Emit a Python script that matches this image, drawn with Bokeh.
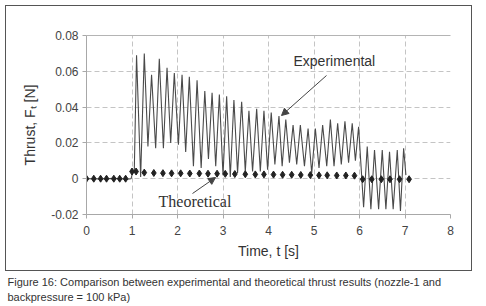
from bokeh.plotting import figure
from bokeh.models import (Range1d, FixedTicker, CustomJSTickFormatter, LinearAxis,
                          Label, Arrow, NormalHead, ColumnDataSource, Title,
                          InlineStyleSheet)
from bokeh.embed import file_html
from bokeh.resources import INLINE

# ---------------- data ----------------
x_ticks = [0, 1, 2, 3, 4, 5, 6, 7, 8]
y_ticks = [-0.02, 0.0, 0.02, 0.04, 0.06, 0.08]

# experimental signal: quiet start, then oscillation peaks and troughs
pre_t = [0.00, 0.30, 0.60, 0.90, 0.98, 1.01, 1.05]
pre_f = [0.000, -0.0002, 0.0002, -0.0003, 0.000, 0.003, 0.004]

peak_t = [1.10, 1.27, 1.43, 1.60, 1.77, 1.93, 2.10, 2.26, 2.43, 2.60, 2.76,
          2.92, 3.08, 3.24, 3.41, 3.57, 3.74, 3.90, 4.06, 4.23, 4.38, 4.54,
          4.70, 4.87, 5.03, 5.19, 5.36, 5.52, 5.68, 5.84, 5.98,
          6.17, 6.33, 6.50, 6.66, 6.83, 6.97]
peak_f = [0.069, 0.070, 0.058, 0.067, 0.062, 0.059, 0.058, 0.057, 0.055, 0.049, 0.048,
          0.047, 0.046, 0.044, 0.043, 0.038, 0.039, 0.038, 0.037, 0.035, 0.033, 0.030,
          0.030, 0.028, 0.028, 0.030, 0.033, 0.031, 0.032, 0.031, 0.029,
          0.018, 0.016, 0.016, 0.015, 0.016, 0.017]

trough_t = [1.19, 1.35, 1.52, 1.69, 1.85, 2.02, 2.18, 2.35, 2.52, 2.68, 2.84,
            3.00, 3.16, 3.32, 3.49, 3.65, 3.82, 3.98, 4.14, 4.30, 4.46, 4.62,
            4.79, 4.95, 5.11, 5.28, 5.44, 5.60, 5.76, 5.91,
            6.09, 6.25, 6.42, 6.58, 6.74, 6.90, 7.02]
trough_f = [0.001, 0.018, 0.017, 0.017, 0.020, 0.019, 0.015, 0.007, 0.006, 0.011, 0.007,
            0.002, 0.001, 0.003, 0.004, 0.004, 0.004, 0.005, 0.008, 0.007, 0.009, 0.008,
            0.007, 0.003, 0.006, 0.007, 0.007, 0.008, 0.009, 0.010,
            -0.016, -0.017, -0.017, -0.017, -0.017, -0.018, 0.002]

# theoretical thrust (diamond markers)
theo_t = [0.00, 0.16, 0.31, 0.44, 0.60, 0.73, 0.86, 1.00, 1.09, 1.27, 1.48, 1.68,
          1.87, 2.07, 2.27, 2.48, 2.67, 2.87, 3.05, 3.26, 3.49, 3.71, 3.90, 4.11,
          4.31, 4.51, 4.71, 4.92, 5.11, 5.29, 5.50, 5.70, 5.89,
          6.07, 6.27, 6.48, 6.67, 6.88, 7.09]
theo_f = [0.0000, 0.0000, 0.0000, 0.0000, 0.0000, 0.0000, 0.0000, 0.0040, 0.0040,
          0.0034, 0.0032, 0.0031, 0.0030, 0.0030, 0.0029, 0.0029, 0.0028, 0.0028,
          0.0027, 0.0026, 0.0025, 0.0024, 0.0024, 0.0023, 0.0022, 0.0022, 0.0021,
          0.0020, 0.0019, 0.0019, 0.0018, 0.0018, 0.0017,
          -0.0003, -0.0003, -0.0003, -0.0003, -0.0003, -0.0003]

x_title = "Time, t [s]"
y_title = "Thrust, F\u209c [N]"
caption_1 = "Figure 16:  Comparison between experimental and theoretical thrust results (nozzle-1 and"
caption_2 = "backpressure = 100 kPa)"

# ---------------- build series ----------------
osc = sorted(zip(peak_t + trough_t, peak_f + trough_f))
exp_t = pre_t + [a for a, _ in osc]
exp_f = pre_f + [b for _, b in osc]

exp_src = ColumnDataSource(data=dict(t=exp_t, f=exp_f))
theo_src = ColumnDataSource(data=dict(t=theo_t, f=theo_f))

# ---------------- figure ----------------
W, H = 486, 306
FL, FR, FT, FB = 86, 450, 35, 214      # plot frame in page pixels
p = figure(width=W, height=H, x_range=Range1d(0, 8), y_range=Range1d(-0.02, 0.08),
           output_backend="svg", toolbar_location=None,
           min_border_left=FL, min_border_right=W - FR,
           min_border_top=FT, min_border_bottom=H - FB)
p.background_fill_color = "white"
p.border_fill_color = "white"
p.outline_line_color = None

def tx(px):
    return (px - FL) / (FR - FL) * 8.0
def fy(py):
    return -0.02 + (FB - py) / (FB - FT) * 0.10

AX = "#a8a8a8"
for ax in (p.xaxis[0], p.yaxis[0]):
    ax.axis_line_color = AX
    ax.major_tick_line_color = AX
    ax.major_tick_out = 4
    ax.major_tick_in = 0
    ax.minor_tick_out = 0
    ax.minor_tick_in = 0
    ax.major_label_text_font = "Liberation Sans"
    ax.major_label_text_font_size = "12px"
    ax.major_label_text_color = "#444444"
    ax.axis_label_text_font = "Liberation Sans"
    ax.axis_label_text_font_size = "14px"
    ax.axis_label_text_font_style = "normal"
    ax.axis_label_text_color = "#333333"

p.xaxis.ticker = FixedTicker(ticks=x_ticks)
p.yaxis.ticker = FixedTicker(ticks=y_ticks)
p.yaxis.formatter = CustomJSTickFormatter(code="return tick == 0 ? '0' : tick.toFixed(2);")
p.xaxis.major_label_standoff = 7
p.yaxis.major_label_standoff = 4
p.xaxis.axis_label = x_title
p.yaxis.axis_label = y_title
p.xaxis.axis_label_standoff = 5
p.yaxis.axis_label_standoff = 10

top = LinearAxis(ticker=FixedTicker(ticks=[]), major_label_text_font_size="0px",
                 axis_line_color="#b4b4b4", major_tick_out=0, major_tick_in=0,
                 minor_tick_out=0, minor_tick_in=0)
p.add_layout(top, "above")

for g in (p.xgrid[0], p.ygrid[0]):
    g.grid_line_color = "#c4c4c4"
    g.grid_line_dash = "5 3"
    g.grid_line_width = 1
p.xgrid.ticker = FixedTicker(ticks=x_ticks)
p.ygrid.ticker = FixedTicker(ticks=y_ticks)

# series
p.line("t", "f", source=exp_src, line_color="#4a4a4a", line_width=1.1)
p.scatter("t", "f", source=theo_src, marker="diamond", size=7,
          fill_color="#222222", line_color="#222222")

# in-plot annotations
p.add_layout(Label(x=tx(293), y=fy(60), text="Experimental", text_font="Liberation Sans",
                   text_font_size="14px", text_color="#333333", text_baseline="middle",
                   text_align="left"))
p.add_layout(Arrow(x_start=tx(326), y_start=fy(75), x_end=tx(281), y_end=fy(115),
                   line_color="#444444", line_width=1,
                   end=NormalHead(size=7, fill_color="#444444", line_color="#444444")))
p.add_layout(Label(x=tx(158), y=fy(201), text="Theoretical", text_font="Liberation Serif",
                   text_font_size="16px", text_color="#333333", text_baseline="middle",
                   text_align="left"))
p.add_layout(Arrow(x_start=tx(192), y_start=fy(193), x_end=tx(215), y_end=fy(177),
                   line_color="#444444", line_width=1,
                   end=NormalHead(size=7, fill_color="#444444", line_color="#444444")))

# caption (two-line title below the chart); padding order is (left, right, top, bottom)
cap_kw = dict(text=caption_1 + "\n" + caption_2, align="left", offset=-79,
              standoff=0, vertical_align="top",
              text_font="Liberation Sans", text_font_size="11px",
              text_font_style="normal", text_color="#333333", text_line_height=1.27)
if "padding" in Title.properties():
    cap_kw["padding"] = (0, 0, 14, 0)
else:
    cap_kw["standoff"] = 15
p.add_layout(Title(**cap_kw), "below")

# outer frame around the chart (drawn by CSS, outside the data area)
p.stylesheets = [InlineStyleSheet(css=(
    ":host::after { content: ''; position: absolute; left: 5px; top: 5px; "
    "width: 467px; height: 266px; border: 1.5px solid #555; "
    "box-sizing: border-box; pointer-events: none; }"))]

open("out.html", "w").write(file_html(p, INLINE))
